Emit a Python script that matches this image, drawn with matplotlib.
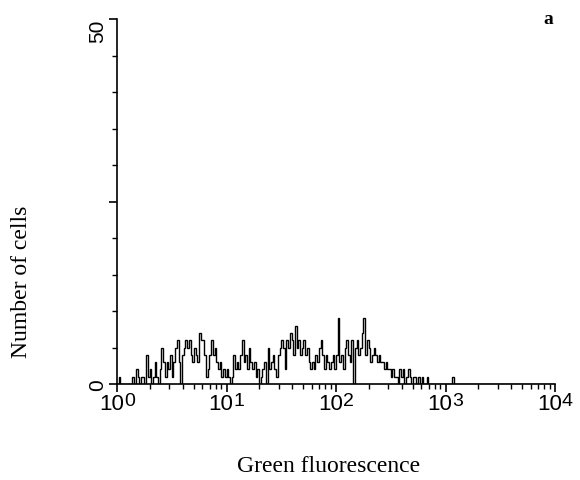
import matplotlib
matplotlib.use("Agg")
import matplotlib.pyplot as plt
import matplotlib.ticker as mticker
import matplotlib.transforms as mtransforms
import numpy as np

# histogram counts per channel (256 log channels over 4 decades)
counts = [
    0, 1, 0, 0, 0, 0, 0, 0, 0, 1, 0, 2, 1, 0, 1, 1,
    0, 4, 1, 2, 0, 1, 3, 1, 0, 2, 5, 3, 1, 3, 2, 4,
    1, 3, 5, 6, 3, 0, 4, 5, 6, 5, 6, 4, 3, 5, 4, 3,
    7, 6, 6, 4, 1, 2, 4, 6, 4, 5, 3, 2, 3, 1, 2, 1,
    2, 1, 0, 1, 4, 2, 3, 2, 4, 6, 3, 4, 2, 5, 3, 2,
    3, 1, 2, 0, 1, 2, 3, 0, 5, 2, 3, 4, 2, 1, 4, 5,
    6, 5, 2, 6, 5, 7, 6, 4, 8, 5, 6, 4, 5, 6, 4, 5,
    3, 2, 3, 2, 4, 3, 5, 6, 4, 2, 4, 3, 2, 3, 4, 2,
    4, 9, 3, 4, 2, 5, 6, 4, 3, 6, 0, 5, 6, 4, 5, 7,
    9, 4, 6, 5, 3, 4, 5, 4, 3, 4, 3, 3, 2, 3, 2, 2,
    1, 2, 1, 1, 0, 2, 1, 2, 0, 1, 2, 1, 0, 1, 1, 0,
    1, 0, 1, 0, 0, 1, 0, 0, 0, 0, 0, 0, 0, 0, 0, 0,
    0, 0, 0, 0, 1,
]
counts = counts + [0] * (256 - len(counts))
n_channels = 256
decades = 4
y_max = 50

x_label = "Green fluorescence"
y_label = "Number of cells"
panel = "a"

edges = 10 ** (decades * np.arange(n_channels + 1) / n_channels)

fig = plt.figure(figsize=(5.8, 4.81), dpi=100)
ax = fig.add_axes([117 / 580, 1 - 385 / 481, 438 / 580, 365 / 481])

ax.stairs(counts, edges, color="black", lw=1.0, baseline=None)

ax.set_xscale("log")
ax.set_xlim(1, 10 ** decades)
ax.set_ylim(0, y_max)

for s in ("top", "right"):
    ax.spines[s].set_visible(False)
for s in ("left", "bottom"):
    ax.spines[s].set_linewidth(1.2)

tick_font = dict(family="Liberation Sans", size=15)

# x ticks: decade labels drawn as "10" + raised exponent digit
decade_ticks = [10 ** k for k in range(decades + 1)]
ax.set_xticks(decade_ticks)
ax.set_xticklabels([""] * len(decade_ticks))
ax.xaxis.set_minor_locator(mticker.LogLocator(base=10, subs=np.arange(2, 10), numticks=10))
ax.xaxis.set_minor_formatter(mticker.NullFormatter())
ax.tick_params(axis="x", which="major", direction="out", length=6, width=1.2)
ax.tick_params(axis="x", which="minor", direction="out", length=3.5, width=1.0)

xt = ax.get_xaxis_transform()
base_tr = xt + mtransforms.ScaledTranslation(-4 / 72, -6.5 / 72, fig.dpi_scale_trans)
exp_tr = xt + mtransforms.ScaledTranslation(5.0 / 72, -5.5 / 72, fig.dpi_scale_trans)
for k, xv in enumerate(decade_ticks):
    ax.text(xv, 0, "10", transform=base_tr, ha="center", va="top",
            family="Liberation Sans", size=16)
    ax.text(xv, 0, str(k), transform=exp_tr, ha="left", va="top",
            family="Liberation Sans", size=14)

ax.set_yticks([0, 25, 50])
ax.set_yticks(np.arange(0, 51, 5), minor=True)
ax.set_yticklabels(["0", "", "50"], rotation=90, **tick_font)
ax.tick_params(axis="y", which="major", direction="out", length=6, width=1.2, pad=1)
ax.tick_params(axis="y", which="minor", direction="out", length=3.5, width=1.0)
ylabs = ax.get_yticklabels()
ylabs[0].set_va("center")
ylabs[2].set_va("top")

fig.text(329 / 580, 1 - 466 / 481, x_label, family="Liberation Serif",
         fontsize=17, ha="center", va="center")
fig.text(22 / 580, 1 - 282 / 481, y_label, family="Liberation Serif",
         fontsize=17, ha="center", va="center", rotation=90)

fig.text(548 / 580, 1 - 20 / 481, panel, family="Liberation Serif",
         fontsize=14, fontweight="bold", ha="center", va="center")

fig.savefig("out.png", dpi=100)
